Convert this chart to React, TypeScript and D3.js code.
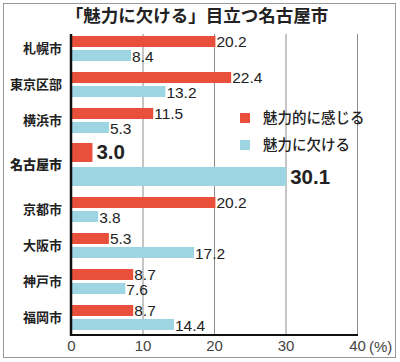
import { useEffect, useRef } from 'react'
import * as d3 from 'd3'

const categories = ['札幌市', '東京区部', '横浜市', '名古屋市', '京都市', '大阪市', '神戸市', '福岡市']
const attractive = [20.2, 22.4, 11.5, 3.0, 20.2, 5.3, 8.7, 8.7]
const lacking = [8.4, 13.2, 5.3, 30.1, 3.8, 17.2, 7.6, 14.4]
const ticks = [0, 10, 20, 30, 40]
const seriesNames = ['魅力的に感じる', '魅力に欠ける']
const title = '「魅力に欠ける」目立つ名古屋市'
const highlight = '名古屋市'

const RED = '#e8503b'
const BLUE = '#9dd5e3'
const FONT = '"Noto Sans CJK JP", "Noto Sans", sans-serif'
const NUM_FONT = '"Liberation Sans", Arial, sans-serif'

export default function App() {
  const svgRef = useRef<SVGSVGElement>(null)

  useEffect(() => {
    document.body.style.margin = '0'
    if (!svgRef.current) return
    const svg = d3.select(svgRef.current)
    svg.selectAll('*').remove()

    const x = d3.scaleLinear().domain([0, 40]).range([71, 357])
    const top = 30
    const bottom = 335

    // rows: highlighted city gets a taller row
    const rowH = categories.map(c => (c === highlight ? 53 : 36))
    const rowTop: number[] = []
    let acc = top
    rowH.forEach(h => { rowTop.push(acc); acc += h })

    svg.append('rect')
      .attr('x', 3.5).attr('y', 3.5)
      .attr('width', 392).attr('height', 354)
      .attr('fill', 'white').attr('stroke', '#999').attr('stroke-width', 1)

    svg.append('text')
      .attr('x', 197).attr('y', 22)
      .attr('text-anchor', 'middle')
      .attr('font-family', FONT).attr('font-size', 17.5).attr('font-weight', 700)
      .attr('fill', '#222')
      .text(title)

    // grid
    svg.append('g').selectAll('line')
      .data(ticks.slice(1))
      .enter().append('line')
      .attr('x1', d => x(d) + 0.5).attr('x2', d => x(d) + 0.5)
      .attr('y1', 34).attr('y2', bottom)
      .attr('stroke', '#8c8c8c').attr('stroke-width', 1)

    const rows = svg.append('g').selectAll('g')
      .data(categories)
      .enter().append('g')

    rows.each(function (c, i) {
      const g = d3.select(this)
      const big = c === highlight
      const t = rowTop[i]
      const bh = big ? 19 : 11
      const y1 = t + (big ? 5 : 6)
      const y2 = t + (big ? 29 : 20)
      const mid = t + rowH[i] / 2

      g.append('text')
        .attr('x', 62).attr('y', mid)
        .attr('dy', '0.35em')
        .attr('text-anchor', 'end')
        .attr('font-family', FONT).attr('font-size', 13)
        .attr('font-weight', big ? 900 : 700)
        .attr('fill', '#222')
        .text(c)

      const bars: [number, number, string, number][] = [
        [attractive[i], y1, RED, -0.5],
        [lacking[i], y2, BLUE, 0.5],
      ]
      bars.forEach(([v, y, col, nudge]) => {
        g.append('rect')
          .attr('x', x(0)).attr('y', y)
          .attr('width', x(v) - x(0)).attr('height', bh)
          .attr('fill', col)
        g.append('text')
          .attr('x', x(v) + (big ? 4 : 1)).attr('y', y + bh / 2 + nudge)
          .attr('dy', '0.36em')
          .attr('font-family', NUM_FONT)
          .attr('font-size', big ? 20.5 : 15.5)
          .attr('font-weight', big ? 700 : 400)
          .attr('fill', '#222')
          .text(v.toFixed(1))
      })
    })

    // axes lines
    svg.append('line')
      .attr('x1', x(0)).attr('x2', x(0))
      .attr('y1', 34).attr('y2', bottom + 1)
      .attr('stroke', '#111').attr('stroke-width', 2.5)
    svg.append('line')
      .attr('x1', x(0)).attr('x2', x(40) + 1)
      .attr('y1', bottom).attr('y2', bottom)
      .attr('stroke', '#111').attr('stroke-width', 2)

    const axis = svg.append('g')
      .attr('transform', `translate(0,${bottom})`)
      .call(d3.axisBottom(x).tickValues(ticks).tickSize(0).tickPadding(5).tickFormat(d3.format('d')))
    axis.select('.domain').remove()
    axis.selectAll('text')
      .attr('font-family', NUM_FONT).attr('font-size', 15)
      .attr('fill', '#444')

    svg.append('text')
      .attr('x', 369).attr('y', 352)
      .attr('font-family', NUM_FONT).attr('font-size', 15)
      .attr('fill', '#444')
      .text('(%)')

    // legend
    const legend = svg.append('g')
    seriesNames.forEach((name, i) => {
      const ly = 113 + i * 27
      legend.append('rect')
        .attr('x', 240).attr('y', ly)
        .attr('width', 10).attr('height', 10)
        .attr('fill', i === 0 ? RED : BLUE)
      legend.append('text')
        .attr('x', 263).attr('y', ly + 5)
        .attr('dy', '0.36em')
        .attr('font-family', FONT).attr('font-size', 14.5).attr('font-weight', 500)
        .attr('fill', '#222')
        .text(name)
    })
  }, [])

  return <svg ref={svgRef} width={400} height={362} style={{ display: 'block' }} />
}
